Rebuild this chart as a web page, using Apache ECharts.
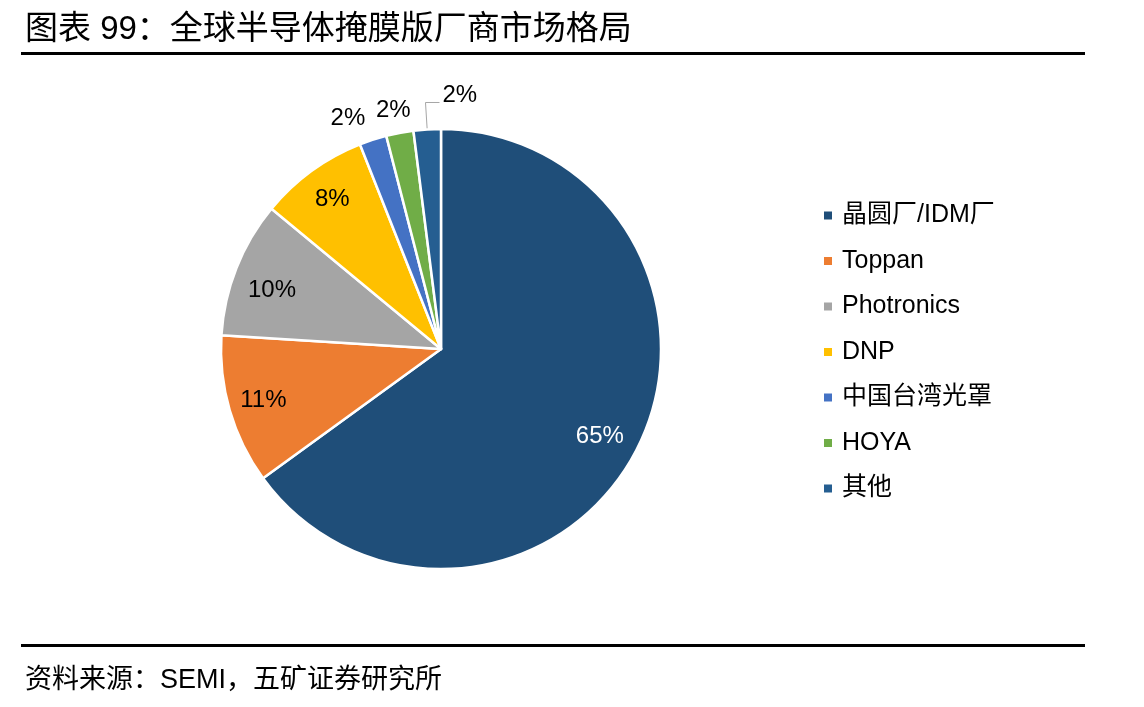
<!DOCTYPE html>
<html>
<head>
<meta charset="utf-8">
<script src="https://cdn.jsdelivr.net/npm/echarts@6/dist/echarts.min.js"></script>
<style>
html,body{margin:0;padding:0;background:#fff;}
#chart{width:1144px;height:707px;}
</style>
</head>
<body>
<div id="chart"></div>
<script>
const titleText = '图表 99：全球半导体掩膜版厂商市场格局';
const sourceText = '资料来源：SEMI，五矿证券研究所';
const categories = ['晶圆厂/IDM厂', 'Toppan', 'Photronics', 'DNP', '中国台湾光罩', 'HOYA', '其他'];
const shares = [65, 11, 10, 8, 2, 2, 2];
const palette = ['#1F4E79', '#ED7D31', '#A5A5A5', '#FFC000', '#4472C4', '#70AD47', '#255E91'];

const FONT = '"Liberation Sans", Arial, "Noto Sans CJK SC", sans-serif';
const CENTER = [441, 349];
const R = 220;

// main pie: small slices get outside labels
const mainData = categories.map((name, i) => {
  const small = shares[i] < 5;
  return {
    name: name,
    value: shares[i],
    itemStyle: { color: palette[i] },
    label: { show: small },
    labelLine: {
      show: i === 6,
      length: i === 6 ? 27 : 22,
      length2: 0
    }
  };
});

// transparent overlay pie, used only to place the large inside labels further out
const labelData = categories.map((name, i) => ({
  name: name,
  value: shares[i],
  label: { show: shares[i] >= 5, color: i === 0 ? '#ffffff' : '#000000' }
}));

const chart = echarts.init(document.getElementById('chart'), null, { renderer: 'canvas' });
chart.setOption({
  backgroundColor: '#ffffff',
  animation: false,
  title: [
    { text: titleText, left: 20, top: 8, textStyle: { fontFamily: FONT, fontSize: 33, fontWeight: 'normal', color: '#000' } },
    { text: sourceText, left: 20, top: 662, textStyle: { fontFamily: FONT, fontSize: 27, fontWeight: 'normal', color: '#000' } }
  ],
  graphic: [
    { type: 'rect', shape: { x: 21, y: 52, width: 1064, height: 3 }, style: { fill: '#000' }, silent: true },
    { type: 'rect', shape: { x: 21, y: 644, width: 1064, height: 3 }, style: { fill: '#000' }, silent: true }
  ],
  legend: {
    orient: 'vertical',
    left: 819,
    top: 198,
    icon: 'rect',
    itemWidth: 8,
    itemHeight: 8,
    itemGap: 20.5,
    itemStyle: { borderWidth: 0 },
    data: categories,
    textStyle: { fontFamily: FONT, fontSize: 25, lineHeight: 24, color: '#000', padding: [0, 0, 0, 5] }
  },
  series: [
    {
      type: 'pie',
      center: CENTER,
      radius: [0, R],
      startAngle: 90,
      clockwise: true,
      avoidLabelOverlap: false,
      itemStyle: { borderColor: '#ffffff', borderWidth: 2.5 },
      label: {
        position: 'outside',
        formatter: '{c}%',
        fontFamily: FONT,
        fontSize: 24,
        color: '#000',
        distanceToLabelLine: 1
      },
      labelLine: { lineStyle: { color: '#A6A6A6', width: 1 } },
      labelLayout: function (p) {
        if (p.dataIndex === 5) {
          return { dx: 16, dy: -1 };
        }
        if (p.dataIndex === 6 && p.labelLinePoints) {
          const pts = p.labelLinePoints;
          const p1 = pts[1];
          return {
            x: p1[0] + 17,
            y: p1[1] - 7,
            align: 'left',
            verticalAlign: 'middle',
            labelLinePoints: [pts[0], p1, [p1[0] + 14, p1[1]]]
          };
        }
        return {};
      },
      emphasis: { disabled: true },
      data: mainData
    },
    {
      type: 'pie',
      center: CENTER,
      radius: [0, 364],
      startAngle: 90,
      clockwise: true,
      silent: true,
      avoidLabelOverlap: false,
      itemStyle: { color: 'rgba(0,0,0,0)', borderWidth: 0 },
      label: {
        position: 'inside',
        formatter: '{c}%',
        fontFamily: FONT,
        fontSize: 24
      },
      labelLayout: function (p) {
        if (p.dataIndex === 2) return { dy: 9, dx: 3 };
        if (p.dataIndex === 0) return { dx: -6, dy: 3 };
        return {};
      },
      labelLine: { show: false },
      emphasis: { disabled: true },
      data: labelData
    }
  ]
});
</script>
</body>
</html>
